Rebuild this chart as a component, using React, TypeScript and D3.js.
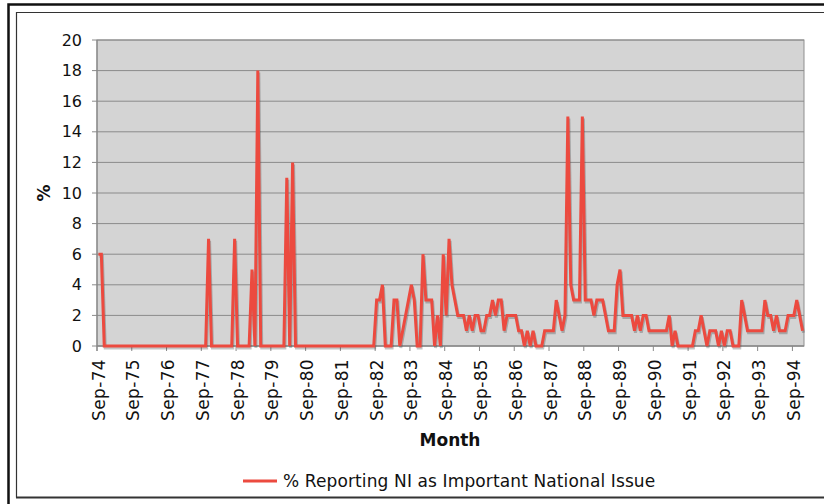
import React from "react";
import * as d3 from "d3";

const startLabels = ["Sep-74","Sep-75","Sep-76","Sep-77","Sep-78","Sep-79","Sep-80","Sep-81","Sep-82","Sep-83","Sep-84","Sep-85","Sep-86","Sep-87","Sep-88","Sep-89","Sep-90","Sep-91","Sep-92","Sep-93","Sep-94"];
const yTicks = [0, 2, 4, 6, 8, 10, 12, 14, 16, 18, 20];
const seriesName = "% Reporting NI as Important National Issue";

// monthly values, Sep-74 .. Dec-94
const values: number[] = [
  6, 6, 0, 0, 0, 0, 0, 0, 0, 0, 0, 0,
  0, 0, 0, 0, 0, 0, 0, 0, 0, 0, 0, 0,
  0, 0, 0, 0, 0, 0, 0, 0, 0, 0, 0, 0,
  0, 0, 7, 0, 0, 0, 0, 0, 0, 0, 0, 7,
  0, 0, 0, 0, 0, 5, 0, 18, 0, 0, 0, 0,
  0, 0, 0, 0, 0, 11, 0, 12, 0, 0, 0, 0,
  0, 0, 0, 0, 0, 0, 0, 0, 0, 0, 0, 0,
  0, 0, 0, 0, 0, 0, 0, 0, 0, 0, 0, 0,
  3, 3, 4, 0, 0, 0, 3, 3, 0, 1, 2, 3,
  4, 3, 0, 0, 6, 3, 3, 3, 0, 2, 0, 6,
  2, 7, 4, 3, 2, 2, 2, 1, 2, 1, 2, 2,
  1, 1, 2, 2, 3, 2, 3, 3, 1, 2, 2, 2,
  2, 1, 1, 0, 1, 0, 1, 0, 0, 0, 1, 1,
  1, 1, 3, 2, 1, 2, 15, 4, 3, 3, 3, 15,
  3, 3, 3, 2, 3, 3, 3, 2, 1, 1, 1, 4,
  5, 2, 2, 2, 2, 1, 2, 1, 2, 2, 1, 1,
  1, 1, 1, 1, 1, 2, 0, 1, 0, 0, 0, 0,
  0, 0, 1, 1, 2, 1, 0, 1, 1, 1, 0, 1,
  0, 1, 1, 0, 0, 0, 3, 2, 1, 1, 1, 1,
  1, 1, 3, 2, 2, 1, 2, 1, 1, 1, 2, 2,
  2, 3, 2, 1
];

const W = 824, H = 504;
const left = 97, right = 804, top = 40, bottom = 346;
const FONT = "'DejaVu Sans', Verdana, sans-serif";
const RED = "#ec4a3f";

export default function App() {
  const N = values.length;
  const x = d3.scaleLinear().domain([0, N]).range([left, right]);
  const y = d3.scaleLinear().domain([0, 20]).range([bottom, top]);
  const line = d3.line<number>().x((_, i) => x(i + 0.5)).y((d) => y(d));
  const path = line(values) || "";

  return (
    <svg width={W} height={H} style={{ position: "absolute", left: 0, top: 0 }} fontFamily={FONT}>
      <rect x={0} y={0} width={W} height={H} fill="#fff" />
      {/* frames */}
      <path d={`M8.5,${H + 5} V4.5 H${W + 5}`} fill="none" stroke="#111" strokeWidth={2.5} />
      <path d={`M16.5,497.5 V12.5 H${W + 5}`} fill="none" stroke="#333" strokeWidth={1.2} />
      <path d={`M16,497.5 H${W + 5}`} fill="none" stroke="#333" strokeWidth={2} />
      {/* plot area */}
      <rect x={left} y={top} width={right - left} height={bottom - top} fill="#d4d4d4" stroke="#8f8f8f" strokeWidth={1} />
      {yTicks.map((t) => (
        <g key={t}>
          <line x1={left} x2={right} y1={y(t)} y2={y(t)} stroke="#8a8a8a" strokeWidth={1} />
          <line x1={left - 5} x2={left} y1={y(t)} y2={y(t)} stroke="#8a8a8a" strokeWidth={1} />
          <text x={82} y={y(t)} textAnchor="end" dominantBaseline="central" fontSize={16} fill="#111">{t}</text>
        </g>
      ))}
      <line x1={left} x2={left} y1={top} y2={bottom + 5} stroke="#888" strokeWidth={1.2} />
      <line x1={left} x2={right} y1={bottom} y2={bottom} stroke="#888" strokeWidth={1.2} />
      {startLabels.map((lab, k) => {
        const tx = x(k * 12);
        return (
          <g key={lab}>
            <line x1={tx} x2={tx} y1={bottom} y2={bottom + 5} stroke="#888" strokeWidth={1} />
            <text transform={`translate(${tx + 1.5},359) rotate(-90)`} textAnchor="end" dominantBaseline="central" fontSize={17} letterSpacing={0.35} fill="#111">{lab}</text>
          </g>
        );
      })}
      {/* series */}
      <path d={path} fill="none" stroke="rgba(60,60,60,0.3)" strokeWidth={3} strokeLinejoin="miter" transform="translate(1,2)" />
      <path d={path} fill="none" stroke={RED} strokeWidth={3} strokeLinejoin="miter" />
      {/* titles */}
      <text transform="translate(44,193) rotate(-90)" textAnchor="middle" dominantBaseline="central" fontSize={17} fontWeight="bold" fill="#111">%</text>
      <text x={450} y={446} textAnchor="middle" fontSize={17} fontWeight="bold" fill="#111">Month</text>
      {/* legend */}
      <line x1={243} x2={277} y1={481} y2={481} stroke={RED} strokeWidth={3} />
      <text x={283} y={487} fontSize={17} letterSpacing={0.12} fill="#111">{seriesName}</text>
    </svg>
  );
}
